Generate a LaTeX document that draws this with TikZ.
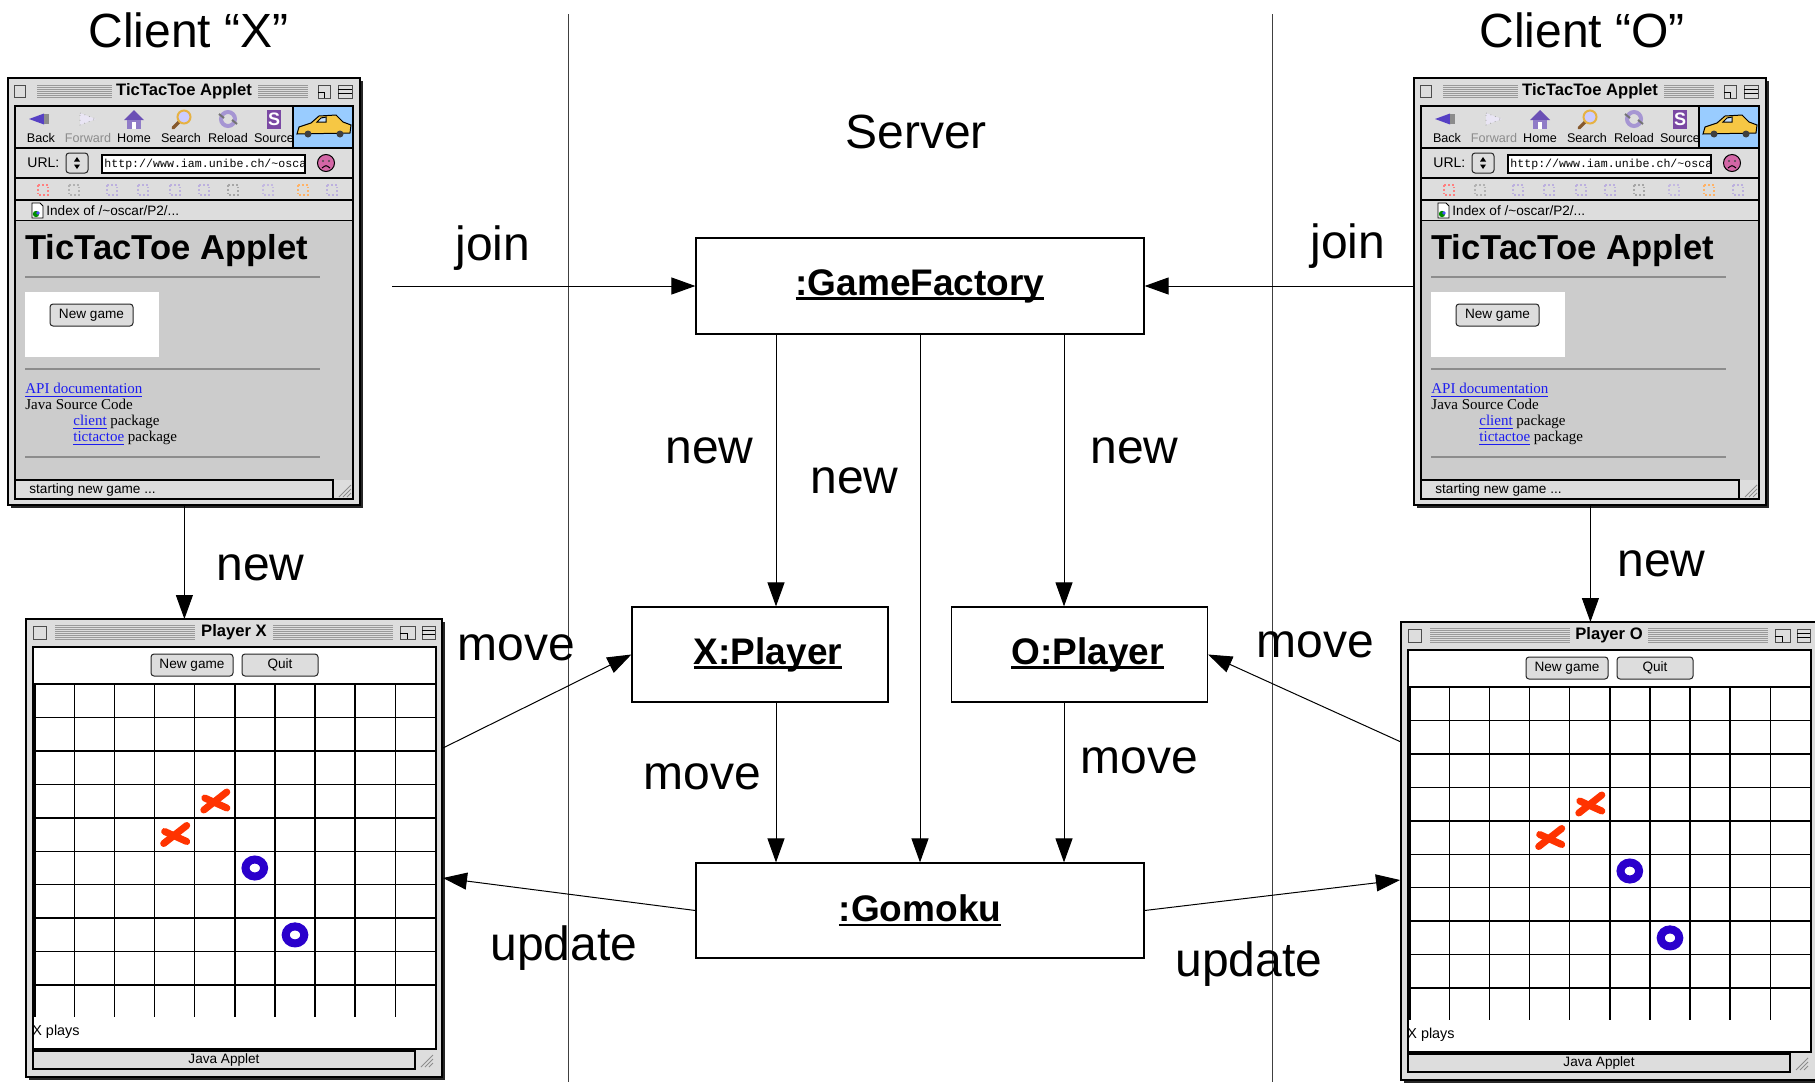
\documentclass[tikz,border=0pt]{standalone}
\usepackage{fontspec}
\setmainfont{Liberation Sans}
\newfontfamily\webfont{Liberation Serif}
\newfontfamily\urlfont{Liberation Mono}
\usetikzlibrary{arrows.meta}

\definecolor{wingrey}{HTML}{CCCCCC}
\definecolor{barfill}{HTML}{DDDDDD}
\definecolor{stripegrey}{HTML}{999999}
\definecolor{linkblue}{HTML}{1C1CF0}
\definecolor{xred}{HTML}{FF3300}
\definecolor{oblue}{HTML}{2A00CC}
\definecolor{carblue}{HTML}{99CCFF}
\definecolor{caryellow}{HTML}{F6C744}
\definecolor{iconpurple}{HTML}{6B50B5}
\definecolor{facepink}{HTML}{D366A6}

\tikzset{
  lbl/.style={inner sep=0pt, anchor=base west, font=\fontsize{24}{26}\selectfont},
  objbox/.style={draw, line width=0.6pt, inner sep=0pt, font=\fontsize{18.5}{20}\selectfont\bfseries},
  msg/.style={line width=0.5pt, -{Triangle[length=12pt,width=8.5pt]}},
  lane/.style={line width=0.5pt, black!75},
  ui/.style={inner sep=0pt, font=\fontsize{6.8}{7}\selectfont},
  uibold/.style={inner sep=0pt, font=\fontsize{8.3}{9}\selectfont\bfseries},
  web/.style={inner sep=0pt, anchor=base west, font=\webfont\fontsize{7.5}{9}\selectfont},
  stripe/.style={line width=0.35pt, stripegrey},
  bevel/.style={line width=0.5pt, draw=black!70, fill=barfill},
  btn/.style={line width=0.5pt, draw=black!85, fill=barfill, rounded corners=1.5pt},
  rule/.style={line width=0.6pt, black!45},
  gridline/.style={line width=0.7pt, black},
  xstroke/.style={xred, line width=3.5pt, line cap=round},
  ostroke/.style={oblue, line width=4pt},
  winframe/.style={inner sep=0pt, anchor=north west},
}

% underline that runs through the descenders
\newcommand\objname[1]{\setbox0=\hbox{#1}\rlap{\vrule height -0.06em depth 0.12em width \wd0}\box0}

% hand drawn stones on the board
\newcommand\xstone[2]{%
  \begin{scope}[shift={(#1,#2)}]
    \draw[xstroke] (12,-9) -- (-11,9);
    \draw[xstroke] (-10,-3) -- (12,7);
  \end{scope}}
\newcommand\ostone[2]{\draw[ostroke] (#1,#2) ellipse (9.3 and 8.5);}

% browser window, drawn from its top left corner
\newcommand\browserwin{%
  \node[winframe, minimum width=176pt, minimum height=213.5pt] (frame) at (0,0) {};
  \fill[black!85] (3,3) rectangle (355,430);
  \draw[line width=0.7pt, fill=barfill] (0,0) rectangle (352,427);
  % title bar
  \draw[bevel] (6,7) rectangle (17,19);
  \foreach \y in {7,9,...,19} {
    \draw[stripe] (29,\y) -- (104,\y);
    \draw[stripe] (250,\y) -- (300,\y);
  }
  \node[uibold] (title) at (176,13) {TicTacToe Applet};
  \draw[bevel] (310,7) rectangle (322,20);
  \draw[line width=0.4pt] (310,14) -- (316,14) -- (316,20);
  \draw[bevel] (330,7) rectangle (344,20);
  \draw[line width=0.4pt] (330,11.5) -- (344,11.5) (330,15.5) -- (344,15.5);
  % button bar
  \draw[line width=0.6pt, fill=barfill] (7,28) rectangle (345,70);
  \foreach \lx/\txt/\col [count=\k] in {33/Back/black, 80/Forward/black!45, 126/Home/black, 173/Search/black, 220/Reload/black, 266/Source/black}
    \node[ui, text=\col, font=\fontsize{6.3}{7}\selectfont] (tb\k) at (\lx,60) {\txt};
  \fill[iconpurple!80!blue] (21,41) -- (36,35.5) -- (36,46.5) -- cycle;
  \fill[black!45] (36,36) rectangle (41,46);
  \draw[black!35, dotted, fill=iconpurple!15] (72,35) -- (88,41) -- (72,47) -- cycle;
  \fill[iconpurple] (116,42) -- (126,32) -- (136,42) -- cycle;
  \fill[iconpurple!75] (119,42) rectangle (133,51);
  \fill[white] (124,44) rectangle (128,51);
  \draw[line width=1.6pt, brown!70!black, line cap=round] (165,50) -- (171,44);
  \draw[line width=1pt, draw=caryellow!70!brown, fill=blue!20] (176,39) circle (6.5);
  \draw[line width=2pt, iconpurple!60] (220,41) circle (7);
  \draw[line width=1pt, black!55] (211,36) -- (216,40) (229,46) -- (224,42);
  \fill[iconpurple!90!red] (259,32) rectangle (273,51);
  \node[inner sep=0pt, white, font=\fontsize{9}{9}\selectfont\bfseries] (srcS) at (266,41.5) {S};
  % car logo
  \draw[line width=0.6pt, fill=carblue] (285,28) rectangle (345,70);
  \draw[line width=0.5pt, fill=caryellow] (289,56) -- (291,49) -- (303,45) -- (311,38) -- (328,37) -- (335,44) -- (343,47) -- (342,55) -- cycle;
  \draw[line width=0.5pt, fill=carblue!60] (313,40) -- (318,39) -- (318,44) -- (309,44) -- cycle;
  \fill[black!75] (300,56) circle (3.5) (332,56) circle (3.5);
  % location field
  \node[ui, anchor=west, font=\fontsize{7}{8}\selectfont] (urllbl) at (19,85) {URL:};
  \draw[btn] (58,75) rectangle (80,95);
  \fill (66,83.5) -- (69,79) -- (72,83.5) -- cycle;
  \fill (66,86.5) -- (69,91) -- (72,86.5) -- cycle;
  \draw[line width=0.9pt, fill=white] (94,77) rectangle (297,95);
  \node[ui, anchor=west, font=\urlfont\fontsize{5.8}{7}\selectfont] (url) at (96,86) {http://www.iam.unibe.ch/\textasciitilde osca};
  \draw[line width=0.5pt, fill=facepink] (318,85) circle (8.5);
  \fill[black!70] (315,83) circle (1.2) (321,83) circle (1.2);
  \draw[line width=0.5pt] (314,90) .. controls (318,87) .. (322,90);
  % directory buttons
  \draw[line width=0.6pt, fill=barfill] (7,100) rectangle (345,122);
  \foreach \ix/\col in {35/red!50, 66/black!30, 104/iconpurple!45, 135/iconpurple!45, 167/iconpurple!45, 196/iconpurple!45, 225/black!35, 260/iconpurple!40, 295/orange!60, 324/iconpurple!45}
    \draw[\col, line width=0.9pt, densely dotted] (\ix-5,107) rectangle (\ix+5,117);
  % page title line
  \draw[line width=0.6pt, fill=barfill] (7,122) rectangle (345,143);
  \draw[line width=0.4pt, fill=white] (24,125) -- (32,125) -- (35,128) -- (35,140) -- (24,140) -- cycle;
  \fill[green!55!black] (28,136) circle (3.2);
  \fill[blue!70] (30,135) circle (1.8);
  \node[ui, anchor=west] (index) at (38,133) {Index of /\textasciitilde oscar/P2/...};
  % page content
  \fill[wingrey] (7,143) rectangle (345,402);
  \node[inner sep=0pt, anchor=base west, font=\fontsize{17.3}{18}\selectfont\bfseries] (heading) at (17,181) {TicTacToe Applet};
  \draw[rule] (17,199) -- (312,199);
  \fill[white] (17,214) rectangle (151,279);
  \draw[btn] (42,226) rectangle (125,248);
  \node[ui] (newgame) at (83.5,237) {New game};
  \draw[rule] (17,291) -- (312,291);
  \node[web, text=linkblue] (apidoc) at (17,315) {\underline{API documentation}};
  \node[web] (srccode) at (17,331) {Java Source Code};
  \node[web] (clientpkg) at (65,347) {\textcolor{linkblue}{\underline{client}} package};
  \node[web] (tttpkg) at (65,363) {\textcolor{linkblue}{\underline{tictactoe}} package};
  \draw[rule] (17,379) -- (312,379);
  % status line
  \draw[line width=0.6pt, fill=barfill] (7,402) rectangle (325,421);
  \node[ui, anchor=west] (status) at (21,412) {starting new game ...};
  \draw[line width=0.6pt] (7,28) rectangle (345,421);
  \foreach \d in {0,4,8} \draw[line width=0.5pt, black!45] (331+\d,419) -- (343,407+\d);
}

% applet window with the board
\newcommand\playerwin[1]{%
  \node[winframe, minimum width=208pt, minimum height=229pt] (frame) at (0,0) {};
  \fill[black!85] (3,3) rectangle (419,461);
  \draw[line width=0.7pt, fill=barfill] (0,0) rectangle (416,458);
  % title bar
  \draw[bevel] (7,7) rectangle (20,20);
  \foreach \y in {6,8,...,20} {
    \draw[stripe] (29,\y) -- (169,\y);
    \draw[stripe] (247,\y) -- (367,\y);
  }
  \node[uibold] (title) at (208,13) {#1};
  \draw[bevel] (374,7) rectangle (389,20);
  \draw[line width=0.4pt] (374,14) -- (381,14) -- (381,20);
  \draw[bevel] (396,7) rectangle (409,20);
  \draw[line width=0.4pt] (396,11.5) -- (409,11.5) (396,15.5) -- (409,15.5);
  % applet area
  \draw[line width=0.7pt, fill=white] (7,28) rectangle (410,430);
  \draw[btn] (125,35) rectangle (207,57);
  \node[ui] (newgame) at (166,46) {New game};
  \draw[btn] (216,35) rectangle (292,57);
  \node[ui] (quit) at (254,46) {Quit};
  % board
  \foreach \i in {0,...,10}
    \draw[gridline] ({8.3+40.1*\i},65) -- ({8.3+40.1*\i},398);
  \foreach \j in {0,...,9}
    \draw[gridline] (8.3,{65+33.45*\j}) -- (409.3,{65+33.45*\j});
  \draw[line width=1.4pt] (8.3,65) -- (8.3,398);
  \xstone{188.8}{182}
  \xstone{148.7}{215.5}
  \ostone{228.8}{249}
  \ostone{269}{315.9}
  \node[ui, anchor=west, font=\fontsize{7.2}{8}\selectfont] (turn) at (6,413) {X plays};
  % status line
  \draw[line width=0.6pt, fill=barfill] (7,432) rectangle (389,450);
  \node[ui] (status) at (198,441) {Java Applet};
  \foreach \d in {0,4,8} \draw[line width=0.5pt, black!45] (395+\d,448) -- (407,436+\d);
}

\begin{document}
\begin{tikzpicture}[x=0.5pt, y=-0.5pt]
  \useasboundingbox (0,0) rectangle (1815,1082);
  % client / server boundaries
  \draw[lane] (568,14) -- (568,1082);
  \draw[lane] (1272,14) -- (1272,1082);

  % Text Node
  \node[lbl] (clientX) at (88,47) {Client “X”};
  % Text Node
  \node[lbl] (server) at (845,148) {Server};
  % Text Node
  \node[lbl] (clientO) at (1479,47) {Client “O”};

  % client windows
  \begin{scope}[shift={(8,78)}, name prefix=bx-]
    \browserwin
  \end{scope}
  \begin{scope}[shift={(1414,78)}, name prefix=bo-]
    \browserwin
  \end{scope}
  \begin{scope}[shift={(26,619)}, name prefix=px-]
    \playerwin{Player X}
  \end{scope}
  \begin{scope}[shift={(1401,622)}, name prefix=po-]
    \playerwin{Player O}
  \end{scope}

  % server objects
  \node[objbox, minimum width=224pt, minimum height=48pt] (gf) at (920,286) {\objname{:GameFactory}};
  \node[objbox, minimum width=128pt, minimum height=47.5pt] (xp) at (760,654.5) {\hspace*{8pt}\objname{X:Player}};
  \node[objbox, minimum width=128pt, minimum height=47.5pt] (op) at (1079.5,654.5) {\hspace*{8pt}\objname{O:Player}};
  \node[objbox, minimum width=224pt, minimum height=47.5pt] (gm) at (920,910.5) {\objname{:Gomoku}};

  % free ends of the messages
  \coordinate (joinX) at (392,286);
  \coordinate (newXcol) at (776,0);
  \coordinate (newOcol) at (1064,0);
  \coordinate (pxMove) at (443,748);
  \coordinate (pxUpdate) at (443,878);
  \coordinate (poMove) at (1401,742);
  \coordinate (poUpdate) at (1400,880);

  % messages
  \draw[msg] (joinX) -- (gf.west);
  \draw[msg] (bo-frame.west |- gf.east) -- (gf.east);
  \draw[msg] (gf.south -| newXcol) -- (xp.north -| newXcol);
  \draw[msg] (gf.south) -- (gm.north);
  \draw[msg] (gf.south -| newOcol) -- (op.north -| newOcol);
  \draw[msg] (xp.south -| newXcol) -- (gm.north -| newXcol);
  \draw[msg] (op.south -| newOcol) -- (gm.north -| newOcol);
  \draw[msg] (bx-frame.south) -- (bx-frame.south |- px-frame.north);
  \draw[msg] (bo-frame.south) -- (bo-frame.south |- po-frame.north);
  \draw[msg] (pxMove) -- (xp.west);
  \draw[msg] (poMove) -- (op.east);
  \draw[msg] (gm.west) -- (pxUpdate);
  \draw[msg] (gm.east) -- (poUpdate);

  % Text Node
  \node[lbl] (joinXlbl) at (455,260) {join};
  % Text Node
  \node[lbl] (joinOlbl) at (1310,258) {join};
  % Text Node
  \node[lbl] (newXlbl) at (665,463) {new};
  % Text Node
  \node[lbl] (newGlbl) at (810,493) {new};
  % Text Node
  \node[lbl] (newOlbl) at (1090,463) {new};
  % Text Node
  \node[lbl] (newPXlbl) at (216,580) {new};
  % Text Node
  \node[lbl] (newPOlbl) at (1617,576) {new};
  % Text Node
  \node[lbl] (moveXlbl) at (457,660) {move};
  % Text Node
  \node[lbl] (moveOlbl) at (1256,657) {move};
  % Text Node
  \node[lbl] (moveXGlbl) at (643,789) {move};
  % Text Node
  \node[lbl] (moveOGlbl) at (1080,773) {move};
  % Text Node
  \node[lbl] (updXlbl) at (490,960) {update};
  % Text Node
  \node[lbl] (updOlbl) at (1175,976) {update};
\end{tikzpicture}
\end{document}
